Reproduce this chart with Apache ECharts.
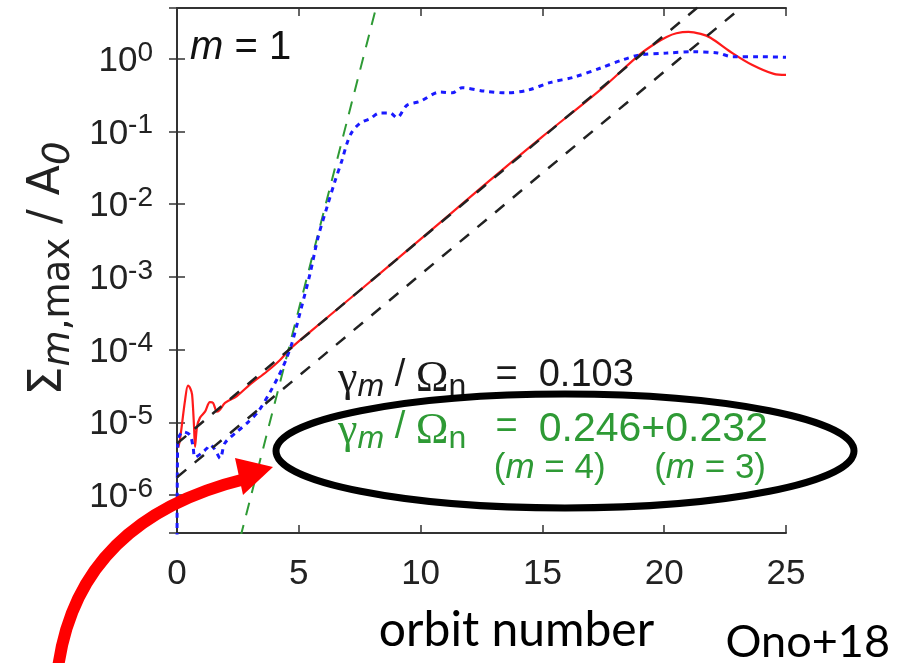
<!DOCTYPE html>
<html>
<head>
<meta charset="utf-8">
<script src="https://cdn.jsdelivr.net/npm/echarts@6/dist/echarts.min.js"></script>
<style>
  html, body { margin: 0; padding: 0; background: #fff; }
  #main { width: 904px; height: 663px; }
</style>
</head>
<body>
<div id="main"></div>
<script>
// Peak surface-density amplitude of the m = 1 mode against orbit number.

// m = 1 amplitude (solid red)
const orbitRed = [0.05, 0.12, 0.33, 0.45, 0.55, 0.62, 0.70, 0.74, 0.82, 0.94, 1.15, 1.35, 1.48, 1.64, 1.77, 1.97, 2.46, 2.99, 3.69, 4.23, 4.64, 5.5, 7.5, 10, 12.5, 15, 17.4, 19.0, 19.6, 20.1, 20.5, 21.0, 21.5, 21.9, 22.8, 23.6, 24.5, 25];
const sigmaRed = [4.5e-6, 5.7e-6, 2.0e-5, 3.2e-5, 2.9e-5, 2.4e-5, 8.6e-6, 4.6e-6, 8.6e-6, 1.15e-5, 1.4e-5, 1.9e-5, 1.85e-5, 1.4e-5, 1.5e-5, 1.85e-5, 2.3e-5, 3.3e-5, 5.0e-5, 7.2e-5, 1.02e-4, 1.8e-4, 6.5e-4, 3.3e-3, 0.017, 0.085, 0.38, 1.15, 1.6, 2.0, 2.25, 2.35, 2.2, 1.95, 1.2, 0.83, 0.62, 0.6];

// higher-m amplitude (dotted blue)
const orbitBlue = [0, 0.03, 0.25, 0.53, 0.66, 0.74, 1.03, 1.23, 1.35, 1.56, 1.77, 1.97, 2.46, 2.91, 3.33, 3.82, 4.15, 4.35, 4.47, 4.72, 5.05, 5.46, 5.79, 6.16, 6.49, 6.77, 6.98, 7.18, 7.51, 7.92, 8.33, 8.74, 9.03, 9.44, 9.98, 10.8, 11.3, 11.7, 12.6, 13.5, 14.4, 15.3, 16.3, 17.4, 18.3, 19.0, 20.1, 21.2, 22.2, 22.8, 23.9, 25];
const sigmaBlue = [1e-7, 5.5e-6, 7.4e-6, 6.7e-6, 4.6e-6, 3.3e-6, 3.8e-6, 4.4e-6, 4.9e-6, 4.2e-6, 3.2e-6, 5.2e-6, 7.4e-6, 1.0e-5, 1.4e-5, 2.6e-5, 4.2e-5, 5.8e-5, 7.2e-5, 1.23e-4, 3.2e-4, 1.1e-3, 3.5e-3, 9.2e-3, 0.021, 0.04, 0.069, 0.098, 0.13, 0.15, 0.18, 0.18, 0.155, 0.23, 0.26, 0.35, 0.34, 0.40, 0.36, 0.34, 0.37, 0.47, 0.56, 0.75, 0.97, 1.13, 1.2, 1.25, 1.2, 1.07, 1.07, 1.05];

// growth-rate guide lines (end points)
const orbitFitUpper = [0, 21.4];
const sigmaFitUpper = [5.1e-6, 5.2];
const orbitFitLower = [0, 23.2];
const sigmaFitLower = [1.75e-6, 5.2];
const orbitFitGreen = [2.6, 8.2];
const sigmaFitGreen = [2.6e-7, 5.5];

// axes
const xTicks = [0, 5, 10, 15, 20, 25];
const yRange = [3.0e-7, 5.0];

const pairs = (xs, ys) => xs.map((x, i) => [x, ys[i]]);

const AXIS = '#333';
const GREEN = '#2e9a35';
const SANS = "'Liberation Sans', Arial, sans-serif";
const WIDE = "'DejaVu Sans', 'Liberation Sans', sans-serif";
const SERIF = "'Liberation Serif', 'Times New Roman', serif";
const HUMANIST = "Lato, 'Open Sans', sans-serif";

const chart = echarts.init(document.getElementById('main'), null, { renderer: 'canvas' });

const frameAxis = {
  axisLine: { show: true, lineStyle: { color: AXIS, width: 2 } },
  axisTick: { show: true, inside: true, length: 8, lineStyle: { color: AXIS, width: 1.5 } },
  splitLine: { show: false }
};

const xAxisBase = Object.assign({
  type: 'value',
  min: xTicks[0],
  max: xTicks[xTicks.length - 1],
  interval: xTicks[1] - xTicks[0]
}, frameAxis);

const yAxisBase = Object.assign({
  type: 'log',
  logBase: 10,
  min: yRange[0],
  max: yRange[1]
}, frameAxis);

const powerLabel = v => {
  const e = Math.log10(v);
  const r = Math.round(e);
  if (Math.abs(e - r) > 1e-6) return '';
  return '{b|10}{s|' + r + '}';
};

// rich styles for "γ_m / Ω_n = ..." lines
const rateRich = color => ({
  g: { fontFamily: SERIF, fontSize: 44, lineHeight: 46, verticalAlign: 'top', fill: color },
  t: { fontFamily: SANS, fontSize: 38, lineHeight: 46, verticalAlign: 'top', fill: color },
  e: { fontFamily: SANS, fontSize: 38, lineHeight: 46, verticalAlign: 'top', fill: color, padding: [0, 0, 0, 8] },
  v: { fontFamily: SANS, fontSize: 41, lineHeight: 46, verticalAlign: 'top', fill: color },
  si: { fontFamily: SANS, fontStyle: 'italic', fontSize: 32, lineHeight: 22, verticalAlign: 'bottom', fill: color },
  sub: { fontFamily: SANS, fontSize: 32, lineHeight: 22, verticalAlign: 'bottom', fill: color }
});

const option = {
  animation: false,
  backgroundColor: '#fff',
  grid: { left: 177, right: 118, top: 8, bottom: 130, containLabel: false },
  xAxis: [
    Object.assign({}, xAxisBase, {
      position: 'bottom',
      name: 'orbit number',
      nameLocation: 'middle',
      nameGap: 74,
      nameTextStyle: { fontFamily: HUMANIST, fontSize: 48, color: '#000', padding: [0, 0, 0, 70] },
      axisLabel: { show: true, margin: 24, color: '#222', fontFamily: SANS, fontSize: 35 }
    }),
    Object.assign({}, xAxisBase, { position: 'top', axisLabel: { show: false } })
  ],
  yAxis: [
    Object.assign({}, yAxisBase, {
      position: 'left',
      name: '{S|Σ}{si|m}{sub|,max}{n| / A}{si|0}',
      nameLocation: 'middle',
      nameRotate: 90,
      nameGap: 99,
      nameTextStyle: {
        color: '#222',
        padding: [0, 0, 0, 4],
        rich: {
          S: { fontFamily: WIDE, fontSize: 46, lineHeight: 52, verticalAlign: 'top' },
          n: { fontFamily: WIDE, fontSize: 44, lineHeight: 52, verticalAlign: 'top' },
          si: { fontFamily: WIDE, fontStyle: 'italic', fontSize: 37, lineHeight: 24, verticalAlign: 'bottom' },
          sub: { fontFamily: WIDE, fontSize: 37, lineHeight: 24, verticalAlign: 'bottom' }
        }
      },
      axisLabel: {
        show: true, margin: 24, showMinLabel: false, showMaxLabel: false,
        formatter: powerLabel,
        rich: {
          b: { fontFamily: SANS, fontSize: 35, color: '#222', lineHeight: 40, verticalAlign: 'bottom' },
          s: { fontFamily: SANS, fontSize: 28, color: '#222', lineHeight: 8, verticalAlign: 'top' }
        }
      }
    }),
    Object.assign({}, yAxisBase, { position: 'right', axisLabel: { show: false } })
  ],
  series: [
    {
      name: 'm=1', type: 'line', data: pairs(orbitRed, sigmaRed), smooth: 0.3,
      showSymbol: false, clip: true, z: 3,
      lineStyle: { color: '#ff1a1a', width: 2.2 }
    },
    {
      name: 'fit-green', type: 'line', data: pairs(orbitFitGreen, sigmaFitGreen),
      showSymbol: false, clip: true, z: 4,
      lineStyle: { color: GREEN, width: 2, type: [13, 10] }
    },
    {
      name: 'higher-m', type: 'line', data: pairs(orbitBlue, sigmaBlue), smooth: 0.3,
      showSymbol: false, clip: true, z: 5,
      lineStyle: { color: '#1a1aff', width: 3, type: [5, 5] }
    },
    {
      name: 'fit-upper', type: 'line', data: pairs(orbitFitUpper, sigmaFitUpper),
      showSymbol: false, clip: true, z: 6,
      lineStyle: { color: '#222', width: 2.5, type: [12, 11] }
    },
    {
      name: 'fit-lower', type: 'line', data: pairs(orbitFitLower, sigmaFitLower),
      showSymbol: false, clip: true, z: 6,
      lineStyle: { color: '#222', width: 2.5, type: [12, 11] }
    }
  ],
  graphic: [
    {
      type: 'text', x: 190, y: 48, z: 10,
      style: {
        text: '{i|m} = 1', fill: '#111', align: 'left', verticalAlign: 'middle',
        font: '40px ' + SANS,
        rich: { i: { fontStyle: 'italic', fontFamily: SANS, fontSize: 40 } }
      }
    },
    {
      type: 'text', x: 338, y: 380, z: 10,
      style: {
        text: '{g|γ}{si|m}{t| / }{g|Ω}{sub|n}{t|  }{e|=}{t|  0.103}',
        fill: '#1a1a1a', align: 'left', verticalAlign: 'middle',
        rich: rateRich('#1a1a1a')
      }
    },
    {
      type: 'text', x: 338, y: 432, z: 10,
      style: {
        text: '{g|γ}{si|m}{t| / }{g|Ω}{sub|n}{t|  }{e|=}{t|  }{v|0.246+0.232}',
        fill: GREEN, align: 'left', verticalAlign: 'middle',
        rich: rateRich(GREEN)
      }
    },
    {
      type: 'text', x: 766, y: 468, z: 10,
      style: {
        text: '({i|m} = 4)     ({i|m} = 3)',
        fill: GREEN, align: 'right', verticalAlign: 'middle',
        font: '35px ' + SANS,
        rich: { i: { fontStyle: 'italic', fontFamily: SANS, fontSize: 35, fill: GREEN } }
      }
    },
    {
      type: 'ellipse', z: 11,
      shape: { cx: 565, cy: 451, rx: 289, ry: 57 },
      style: { fill: null, stroke: '#000', lineWidth: 7 }
    },
    {
      type: 'bezierCurve', z: 12,
      shape: { x1: 58, y1: 668, cpx1: 78, cpy1: 520, x2: 245, y2: 479 },
      style: { fill: null, stroke: '#ff0000', lineWidth: 12 }
    },
    {
      type: 'polygon', z: 12,
      shape: { points: [[273, 467], [235, 458], [243, 495]] },
      style: { fill: '#ff0000' }
    },
    {
      type: 'text', x: 890, y: 642, z: 10,
      style: {
        text: 'Ono+18', fill: '#000', align: 'right', verticalAlign: 'middle',
        font: '45px ' + HUMANIST
      }
    }
  ]
};

chart.setOption(option);
</script>
</body>
</html>
